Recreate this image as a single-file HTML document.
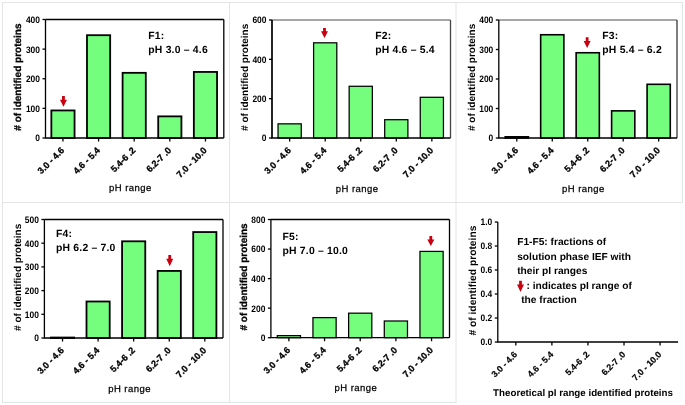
<!DOCTYPE html>
<html><head><meta charset="utf-8"><style>
html,body{margin:0;padding:0;background:#fff;}
body{width:685px;height:405px;overflow:hidden;}
svg{display:block;will-change:transform;filter:blur(0.35px);}
text{font-family:"Liberation Sans", sans-serif;fill:#000;text-rendering:geometricPrecision;}
.tk{font-size:9.4px;font-weight:bold;}
.xl{font-size:9.1px;font-weight:bold;stroke:#000;stroke-width:0.3px;}
.xl6{font-size:8.8px;font-weight:bold;stroke:#000;stroke-width:0.2px;}
.ann{font-size:10.4px;font-weight:bold;letter-spacing:0.2px;}
.ph{font-size:9.5px;letter-spacing:0.45px;stroke:#000;stroke-width:0.25px;}
.xt{font-size:9.75px;font-weight:bold;}
.yl{font-size:10px;font-weight:bold;}
.yh{stroke:#000;stroke-width:0.3px;}
.y6{font-size:10.25px;}
.lg{font-size:10.2px;font-weight:bold;}
</style></head><body>
<svg width="685" height="405" viewBox="0 0 685 405">
<line x1="2.5" y1="2" x2="2.5" y2="403" stroke="#e4e4e4" stroke-width="1"/>
<line x1="229.5" y1="2" x2="229.5" y2="403" stroke="#e4e4e4" stroke-width="1"/>
<line x1="456" y1="2" x2="456" y2="403" stroke="#e4e4e4" stroke-width="1"/>
<line x1="682.5" y1="2" x2="682.5" y2="203" stroke="#e4e4e4" stroke-width="1"/>
<line x1="2" y1="2.5" x2="683" y2="2.5" stroke="#e4e4e4" stroke-width="1"/>
<line x1="2" y1="202.5" x2="683" y2="202.5" stroke="#e4e4e4" stroke-width="1"/>
<line x1="2" y1="402.5" x2="456.5" y2="402.5" stroke="#e4e4e4" stroke-width="1"/>
<rect x="51.35" y="110.45" width="23.20" height="27.55" fill="#75fe7e" stroke="#000" stroke-width="1.8"/>
<rect x="86.98" y="35.20" width="23.20" height="102.80" fill="#75fe7e" stroke="#000" stroke-width="1.8"/>
<rect x="122.60" y="72.83" width="23.20" height="65.17" fill="#75fe7e" stroke="#000" stroke-width="1.8"/>
<rect x="158.22" y="116.37" width="23.20" height="21.63" fill="#75fe7e" stroke="#000" stroke-width="1.8"/>
<rect x="193.85" y="71.94" width="23.20" height="66.06" fill="#75fe7e" stroke="#000" stroke-width="1.8"/>
<line x1="45.50" y1="19.50" x2="223.80" y2="19.50" stroke="#000" stroke-width="1.3"/>
<line x1="223.80" y1="19.50" x2="223.80" y2="138.00" stroke="#000" stroke-width="1.3"/>
<path d="M45.50,19.50 L45.50,138.00 L223.80,138.00" fill="none" stroke="#000" stroke-width="1.3"/>
<line x1="42.50" y1="138.00" x2="45.50" y2="138.00" stroke="#000" stroke-width="1.3"/>
<text transform="translate(40.00,141.40) scale(0.9,1)" text-anchor="end" class="tk">0</text>
<line x1="42.50" y1="108.38" x2="45.50" y2="108.38" stroke="#000" stroke-width="1.3"/>
<text transform="translate(40.00,111.78) scale(0.9,1)" text-anchor="end" class="tk">100</text>
<line x1="42.50" y1="78.75" x2="45.50" y2="78.75" stroke="#000" stroke-width="1.3"/>
<text transform="translate(40.00,82.15) scale(0.9,1)" text-anchor="end" class="tk">200</text>
<line x1="42.50" y1="49.12" x2="45.50" y2="49.12" stroke="#000" stroke-width="1.3"/>
<text transform="translate(40.00,52.52) scale(0.9,1)" text-anchor="end" class="tk">300</text>
<line x1="42.50" y1="19.50" x2="45.50" y2="19.50" stroke="#000" stroke-width="1.3"/>
<text transform="translate(40.00,22.90) scale(0.9,1)" text-anchor="end" class="tk">400</text>
<line x1="62.95" y1="138.00" x2="62.95" y2="141.50" stroke="#000" stroke-width="1.3"/>
<text transform="translate(64.95,151.00) rotate(-45)" text-anchor="end" class="xl">3.0 - 4.6</text>
<line x1="98.58" y1="138.00" x2="98.58" y2="141.50" stroke="#000" stroke-width="1.3"/>
<text transform="translate(100.58,151.00) rotate(-45)" text-anchor="end" class="xl">4.6 - 5.4</text>
<line x1="134.20" y1="138.00" x2="134.20" y2="141.50" stroke="#000" stroke-width="1.3"/>
<text transform="translate(136.20,151.00) rotate(-45)" text-anchor="end" class="xl">5.4-6 .2</text>
<line x1="169.82" y1="138.00" x2="169.82" y2="141.50" stroke="#000" stroke-width="1.3"/>
<text transform="translate(171.82,151.00) rotate(-45)" text-anchor="end" class="xl">6.2-7 .0</text>
<line x1="205.45" y1="138.00" x2="205.45" y2="141.50" stroke="#000" stroke-width="1.3"/>
<text transform="translate(207.45,151.00) rotate(-45)" text-anchor="end" class="xl">7.0 - 10.0</text>
<path d="M62.05,96.05 L64.85,96.05 L64.85,99.65 L66.95,99.65 L63.45,106.65 L59.95,99.65 L62.05,99.65 Z" fill="#c8000f"/>
<text x="148.3" y="38.9" class="ann">F1:</text>
<text x="148.3" y="53.00" class="ann">pH 3.0 – 4.6</text>
<text x="109" y="191.1" class="ph">pH range</text>
<text transform="translate(21.3,77.10) rotate(-90)" text-anchor="middle" class="yl yh"># of identified proteins</text>
<rect x="278.05" y="123.84" width="23.20" height="14.16" fill="#75fe7e" stroke="#000" stroke-width="1.25"/>
<rect x="313.60" y="42.81" width="23.20" height="95.19" fill="#75fe7e" stroke="#000" stroke-width="1.25"/>
<rect x="349.15" y="86.28" width="23.20" height="51.72" fill="#75fe7e" stroke="#000" stroke-width="1.25"/>
<rect x="384.70" y="119.71" width="23.20" height="18.29" fill="#75fe7e" stroke="#000" stroke-width="1.25"/>
<rect x="420.25" y="97.29" width="23.20" height="40.71" fill="#75fe7e" stroke="#000" stroke-width="1.25"/>
<line x1="272.00" y1="20.00" x2="450.50" y2="20.00" stroke="#888" stroke-width="1.6"/>
<line x1="450.50" y1="20.00" x2="450.50" y2="138.00" stroke="#444" stroke-width="1.3"/>
<path d="M272.00,20.00 L272.00,138.00 L450.50,138.00" fill="none" stroke="#000" stroke-width="1.7"/>
<line x1="269.00" y1="138.00" x2="272.00" y2="138.00" stroke="#000" stroke-width="1.3"/>
<text transform="translate(266.50,141.40) scale(0.9,1)" text-anchor="end" class="tk">0</text>
<line x1="269.00" y1="98.67" x2="272.00" y2="98.67" stroke="#000" stroke-width="1.3"/>
<text transform="translate(266.50,102.07) scale(0.9,1)" text-anchor="end" class="tk">200</text>
<line x1="269.00" y1="59.33" x2="272.00" y2="59.33" stroke="#000" stroke-width="1.3"/>
<text transform="translate(266.50,62.73) scale(0.9,1)" text-anchor="end" class="tk">400</text>
<line x1="269.00" y1="20.00" x2="272.00" y2="20.00" stroke="#000" stroke-width="1.3"/>
<text transform="translate(266.50,23.40) scale(0.9,1)" text-anchor="end" class="tk">600</text>
<line x1="289.65" y1="138.00" x2="289.65" y2="141.50" stroke="#000" stroke-width="1.3"/>
<text transform="translate(291.65,151.00) rotate(-45)" text-anchor="end" class="xl">3.0 - 4.6</text>
<line x1="325.20" y1="138.00" x2="325.20" y2="141.50" stroke="#000" stroke-width="1.3"/>
<text transform="translate(327.20,151.00) rotate(-45)" text-anchor="end" class="xl">4.6 - 5.4</text>
<line x1="360.75" y1="138.00" x2="360.75" y2="141.50" stroke="#000" stroke-width="1.3"/>
<text transform="translate(362.75,151.00) rotate(-45)" text-anchor="end" class="xl">5.4-6 .2</text>
<line x1="396.30" y1="138.00" x2="396.30" y2="141.50" stroke="#000" stroke-width="1.3"/>
<text transform="translate(398.30,151.00) rotate(-45)" text-anchor="end" class="xl">6.2-7 .0</text>
<line x1="431.85" y1="138.00" x2="431.85" y2="141.50" stroke="#000" stroke-width="1.3"/>
<text transform="translate(433.85,151.00) rotate(-45)" text-anchor="end" class="xl">7.0 - 10.0</text>
<path d="M323.10,27.91 L325.90,27.91 L325.90,31.35 L328.00,31.35 L324.50,38.01 L321.00,31.35 L323.10,31.35 Z" fill="#c8000f"/>
<text x="375.2" y="39" class="ann">F2:</text>
<text x="375.2" y="53.10" class="ann">pH 4.6 – 5.4</text>
<text x="335.8" y="192.2" class="ph">pH range</text>
<text transform="translate(247.6,77.35) rotate(-90)" text-anchor="middle" class="yl"># of identified proteins</text>
<rect x="505.20" y="136.82" width="23.20" height="1.18" fill="#75fe7e" stroke="#000" stroke-width="1.6"/>
<rect x="540.67" y="34.75" width="23.20" height="103.25" fill="#75fe7e" stroke="#000" stroke-width="1.6"/>
<rect x="576.14" y="52.75" width="23.20" height="85.25" fill="#75fe7e" stroke="#000" stroke-width="1.6"/>
<rect x="611.61" y="110.86" width="23.20" height="27.14" fill="#75fe7e" stroke="#000" stroke-width="1.6"/>
<rect x="647.08" y="84.31" width="23.20" height="53.69" fill="#75fe7e" stroke="#000" stroke-width="1.6"/>
<line x1="498.80" y1="20.00" x2="677.00" y2="20.00" stroke="#888" stroke-width="1.6"/>
<line x1="677.00" y1="20.00" x2="677.00" y2="138.00" stroke="#3a3a3a" stroke-width="1.3"/>
<path d="M498.80,20.00 L498.80,138.00 L677.00,138.00" fill="none" stroke="#000" stroke-width="1.3"/>
<line x1="495.80" y1="138.00" x2="498.80" y2="138.00" stroke="#000" stroke-width="1.3"/>
<text transform="translate(493.30,141.40) scale(0.9,1)" text-anchor="end" class="tk">0</text>
<line x1="495.80" y1="108.50" x2="498.80" y2="108.50" stroke="#000" stroke-width="1.3"/>
<text transform="translate(493.30,111.90) scale(0.9,1)" text-anchor="end" class="tk">100</text>
<line x1="495.80" y1="79.00" x2="498.80" y2="79.00" stroke="#000" stroke-width="1.3"/>
<text transform="translate(493.30,82.40) scale(0.9,1)" text-anchor="end" class="tk">200</text>
<line x1="495.80" y1="49.50" x2="498.80" y2="49.50" stroke="#000" stroke-width="1.3"/>
<text transform="translate(493.30,52.90) scale(0.9,1)" text-anchor="end" class="tk">300</text>
<line x1="495.80" y1="20.00" x2="498.80" y2="20.00" stroke="#000" stroke-width="1.3"/>
<text transform="translate(493.30,23.40) scale(0.9,1)" text-anchor="end" class="tk">400</text>
<line x1="516.80" y1="138.00" x2="516.80" y2="141.50" stroke="#000" stroke-width="1.3"/>
<text transform="translate(518.80,151.00) rotate(-45)" text-anchor="end" class="xl">3.0 - 4.6</text>
<line x1="552.27" y1="138.00" x2="552.27" y2="141.50" stroke="#000" stroke-width="1.3"/>
<text transform="translate(554.27,151.00) rotate(-45)" text-anchor="end" class="xl">4.6 - 5.4</text>
<line x1="587.74" y1="138.00" x2="587.74" y2="141.50" stroke="#000" stroke-width="1.3"/>
<text transform="translate(589.74,151.00) rotate(-45)" text-anchor="end" class="xl">5.4-6 .2</text>
<line x1="623.21" y1="138.00" x2="623.21" y2="141.50" stroke="#000" stroke-width="1.3"/>
<text transform="translate(625.21,151.00) rotate(-45)" text-anchor="end" class="xl">6.2-7 .0</text>
<line x1="658.68" y1="138.00" x2="658.68" y2="141.50" stroke="#000" stroke-width="1.3"/>
<text transform="translate(660.68,151.00) rotate(-45)" text-anchor="end" class="xl">7.0 - 10.0</text>
<path d="M585.74,37.34 L588.54,37.34 L588.54,40.98 L590.64,40.98 L587.14,48.05 L583.64,40.98 L585.74,40.98 Z" fill="#c8000f"/>
<text x="602.3" y="38.9" class="ann">F3:</text>
<text x="602.3" y="53.00" class="ann">pH 5.4 – 6.2</text>
<text x="562" y="192.2" class="ph">pH range</text>
<text transform="translate(474.8,77.40) rotate(-90)" text-anchor="middle" class="yl"># of identified proteins</text>
<rect x="50.93" y="337.53" width="23.20" height="0.47" fill="#75fe7e" stroke="#000" stroke-width="1.8"/>
<rect x="86.50" y="301.50" width="23.20" height="36.50" fill="#75fe7e" stroke="#000" stroke-width="1.8"/>
<rect x="122.07" y="241.30" width="23.20" height="96.70" fill="#75fe7e" stroke="#000" stroke-width="1.8"/>
<rect x="157.64" y="270.93" width="23.20" height="67.07" fill="#75fe7e" stroke="#000" stroke-width="1.8"/>
<rect x="193.21" y="232.06" width="23.20" height="105.94" fill="#75fe7e" stroke="#000" stroke-width="1.8"/>
<line x1="44.40" y1="219.50" x2="223.00" y2="219.50" stroke="#000" stroke-width="1.3"/>
<line x1="223.00" y1="219.50" x2="223.00" y2="338.00" stroke="#000" stroke-width="1.3"/>
<path d="M44.40,219.50 L44.40,338.00 L223.00,338.00" fill="none" stroke="#000" stroke-width="1.3"/>
<line x1="41.40" y1="338.00" x2="44.40" y2="338.00" stroke="#000" stroke-width="1.3"/>
<text transform="translate(38.90,341.40) scale(0.9,1)" text-anchor="end" class="tk">0</text>
<line x1="41.40" y1="314.30" x2="44.40" y2="314.30" stroke="#000" stroke-width="1.3"/>
<text transform="translate(38.90,317.70) scale(0.9,1)" text-anchor="end" class="tk">100</text>
<line x1="41.40" y1="290.60" x2="44.40" y2="290.60" stroke="#000" stroke-width="1.3"/>
<text transform="translate(38.90,294.00) scale(0.9,1)" text-anchor="end" class="tk">200</text>
<line x1="41.40" y1="266.90" x2="44.40" y2="266.90" stroke="#000" stroke-width="1.3"/>
<text transform="translate(38.90,270.30) scale(0.9,1)" text-anchor="end" class="tk">300</text>
<line x1="41.40" y1="243.20" x2="44.40" y2="243.20" stroke="#000" stroke-width="1.3"/>
<text transform="translate(38.90,246.60) scale(0.9,1)" text-anchor="end" class="tk">400</text>
<line x1="41.40" y1="219.50" x2="44.40" y2="219.50" stroke="#000" stroke-width="1.3"/>
<text transform="translate(38.90,222.90) scale(0.9,1)" text-anchor="end" class="tk">500</text>
<line x1="62.53" y1="338.00" x2="62.53" y2="341.50" stroke="#000" stroke-width="1.3"/>
<text transform="translate(64.53,351.00) rotate(-45)" text-anchor="end" class="xl">3.0 - 4.6</text>
<line x1="98.10" y1="338.00" x2="98.10" y2="341.50" stroke="#000" stroke-width="1.3"/>
<text transform="translate(100.10,351.00) rotate(-45)" text-anchor="end" class="xl">4.6 - 5.4</text>
<line x1="133.67" y1="338.00" x2="133.67" y2="341.50" stroke="#000" stroke-width="1.3"/>
<text transform="translate(135.67,351.00) rotate(-45)" text-anchor="end" class="xl">5.4-6 .2</text>
<line x1="169.24" y1="338.00" x2="169.24" y2="341.50" stroke="#000" stroke-width="1.3"/>
<text transform="translate(171.24,351.00) rotate(-45)" text-anchor="end" class="xl">6.2-7 .0</text>
<line x1="204.81" y1="338.00" x2="204.81" y2="341.50" stroke="#000" stroke-width="1.3"/>
<text transform="translate(206.81,351.00) rotate(-45)" text-anchor="end" class="xl">7.0 - 10.0</text>
<path d="M168.34,254.93 L171.14,254.93 L171.14,258.77 L173.24,258.77 L169.74,266.23 L166.24,258.77 L168.34,258.77 Z" fill="#c8000f"/>
<text x="56" y="237.3" class="ann">F4:</text>
<text x="56" y="251.40" class="ann">pH 6.2 – 7.0</text>
<text x="108.2" y="391.5" class="ph">pH range</text>
<text transform="translate(20.7,277.35) rotate(-90)" text-anchor="middle" class="yl"># of identified proteins</text>
<rect x="277.28" y="335.63" width="23.20" height="2.07" fill="#75fe7e" stroke="#000" stroke-width="1.25"/>
<rect x="312.95" y="317.61" width="23.20" height="20.09" fill="#75fe7e" stroke="#000" stroke-width="1.25"/>
<rect x="348.62" y="313.17" width="23.20" height="24.53" fill="#75fe7e" stroke="#000" stroke-width="1.25"/>
<rect x="384.29" y="321.00" width="23.20" height="16.70" fill="#75fe7e" stroke="#000" stroke-width="1.25"/>
<rect x="419.96" y="251.41" width="23.20" height="86.29" fill="#75fe7e" stroke="#000" stroke-width="1.25"/>
<line x1="270.90" y1="219.50" x2="449.50" y2="219.50" stroke="#000" stroke-width="1.3"/>
<line x1="449.50" y1="219.50" x2="449.50" y2="337.70" stroke="#000" stroke-width="1.3"/>
<path d="M270.90,219.50 L270.90,337.70 L449.50,337.70" fill="none" stroke="#000" stroke-width="1.3"/>
<line x1="267.90" y1="337.70" x2="270.90" y2="337.70" stroke="#000" stroke-width="1.3"/>
<text transform="translate(265.40,341.10) scale(0.9,1)" text-anchor="end" class="tk">0</text>
<line x1="267.90" y1="308.15" x2="270.90" y2="308.15" stroke="#000" stroke-width="1.3"/>
<text transform="translate(265.40,311.55) scale(0.9,1)" text-anchor="end" class="tk">200</text>
<line x1="267.90" y1="278.60" x2="270.90" y2="278.60" stroke="#000" stroke-width="1.3"/>
<text transform="translate(265.40,282.00) scale(0.9,1)" text-anchor="end" class="tk">400</text>
<line x1="267.90" y1="249.05" x2="270.90" y2="249.05" stroke="#000" stroke-width="1.3"/>
<text transform="translate(265.40,252.45) scale(0.9,1)" text-anchor="end" class="tk">600</text>
<line x1="267.90" y1="219.50" x2="270.90" y2="219.50" stroke="#000" stroke-width="1.3"/>
<text transform="translate(265.40,222.90) scale(0.9,1)" text-anchor="end" class="tk">800</text>
<line x1="288.88" y1="337.70" x2="288.88" y2="341.20" stroke="#000" stroke-width="1.3"/>
<text transform="translate(290.88,350.70) rotate(-45)" text-anchor="end" class="xl">3.0 - 4.6</text>
<line x1="324.55" y1="337.70" x2="324.55" y2="341.20" stroke="#000" stroke-width="1.3"/>
<text transform="translate(326.55,350.70) rotate(-45)" text-anchor="end" class="xl">4.6 - 5.4</text>
<line x1="360.22" y1="337.70" x2="360.22" y2="341.20" stroke="#000" stroke-width="1.3"/>
<text transform="translate(362.22,350.70) rotate(-45)" text-anchor="end" class="xl">5.4-6 .2</text>
<line x1="395.89" y1="337.70" x2="395.89" y2="341.20" stroke="#000" stroke-width="1.3"/>
<text transform="translate(397.89,350.70) rotate(-45)" text-anchor="end" class="xl">6.2-7 .0</text>
<line x1="431.56" y1="337.70" x2="431.56" y2="341.20" stroke="#000" stroke-width="1.3"/>
<text transform="translate(433.56,350.70) rotate(-45)" text-anchor="end" class="xl">7.0 - 10.0</text>
<path d="M429.41,236.01 L432.21,236.01 L432.21,239.45 L434.31,239.45 L430.81,246.11 L427.31,239.45 L429.41,239.45 Z" fill="#c8000f"/>
<text x="282.5" y="240.1" class="ann">F5:</text>
<text x="282.5" y="254.20" class="ann">pH 7.0 – 10.0</text>
<text x="334.5" y="390.5" class="ph">pH range</text>
<text transform="translate(247.1,276.95) rotate(-90)" text-anchor="middle" class="yl yh"># of identified proteins</text>
<path d="M497.80,222.00 L497.80,342.00 L678.10,342.00" fill="none" stroke="#000" stroke-width="1.3"/>
<line x1="494.80" y1="342.00" x2="497.80" y2="342.00" stroke="#000" stroke-width="1.3"/>
<text transform="translate(492.30,345.40) scale(0.9,1)" text-anchor="end" class="tk">0.0</text>
<line x1="494.80" y1="318.00" x2="497.80" y2="318.00" stroke="#000" stroke-width="1.3"/>
<text transform="translate(492.30,321.40) scale(0.9,1)" text-anchor="end" class="tk">0.2</text>
<line x1="494.80" y1="294.00" x2="497.80" y2="294.00" stroke="#000" stroke-width="1.3"/>
<text transform="translate(492.30,297.40) scale(0.9,1)" text-anchor="end" class="tk">0.4</text>
<line x1="494.80" y1="270.00" x2="497.80" y2="270.00" stroke="#000" stroke-width="1.3"/>
<text transform="translate(492.30,273.40) scale(0.9,1)" text-anchor="end" class="tk">0.6</text>
<line x1="494.80" y1="246.00" x2="497.80" y2="246.00" stroke="#000" stroke-width="1.3"/>
<text transform="translate(492.30,249.40) scale(0.9,1)" text-anchor="end" class="tk">0.8</text>
<line x1="494.80" y1="222.00" x2="497.80" y2="222.00" stroke="#000" stroke-width="1.3"/>
<text transform="translate(492.30,225.40) scale(0.9,1)" text-anchor="end" class="tk">1.0</text>
<line x1="515.83" y1="342.00" x2="515.83" y2="345.50" stroke="#000" stroke-width="1.3"/>
<text transform="translate(517.83,355.00) rotate(-45)" text-anchor="end" class="xl6">3.0 - 4.6</text>
<line x1="551.89" y1="342.00" x2="551.89" y2="345.50" stroke="#000" stroke-width="1.3"/>
<text transform="translate(553.89,355.00) rotate(-45)" text-anchor="end" class="xl6">4.6 - 5.4</text>
<line x1="587.95" y1="342.00" x2="587.95" y2="345.50" stroke="#000" stroke-width="1.3"/>
<text transform="translate(589.95,355.00) rotate(-45)" text-anchor="end" class="xl6">5.4-6 .2</text>
<line x1="624.01" y1="342.00" x2="624.01" y2="345.50" stroke="#000" stroke-width="1.3"/>
<text transform="translate(626.01,355.00) rotate(-45)" text-anchor="end" class="xl6">6.2-7 .0</text>
<line x1="660.07" y1="342.00" x2="660.07" y2="345.50" stroke="#000" stroke-width="1.3"/>
<text transform="translate(662.07,355.00) rotate(-45)" text-anchor="end" class="xl6">7.0 - 10.0</text>
<text x="493.1" y="395.7" class="xt">Theoretical pI range identified proteins</text>
<text transform="translate(476.0,280.60) rotate(-90)" text-anchor="middle" class="yl y6"># of identified proteins</text>
<text x="517.2" y="245.2" class="lg">F1-F5: fractions of</text>
<text x="517.2" y="259.5" class="lg">solution phase IEF with</text>
<text x="517.2" y="273.6" class="lg">their pI ranges</text>
<text x="526.5" y="288.9" class="lg">: indicates pI range of</text>
<text x="521.2" y="303" class="lg">the fraction</text>
<path d="M519.10,280.80 L521.90,280.80 L521.90,284.61 L524.00,284.61 L520.50,292.00 L517.00,284.61 L519.10,284.61 Z" fill="#c8000f"/>
</svg>
</body></html>
